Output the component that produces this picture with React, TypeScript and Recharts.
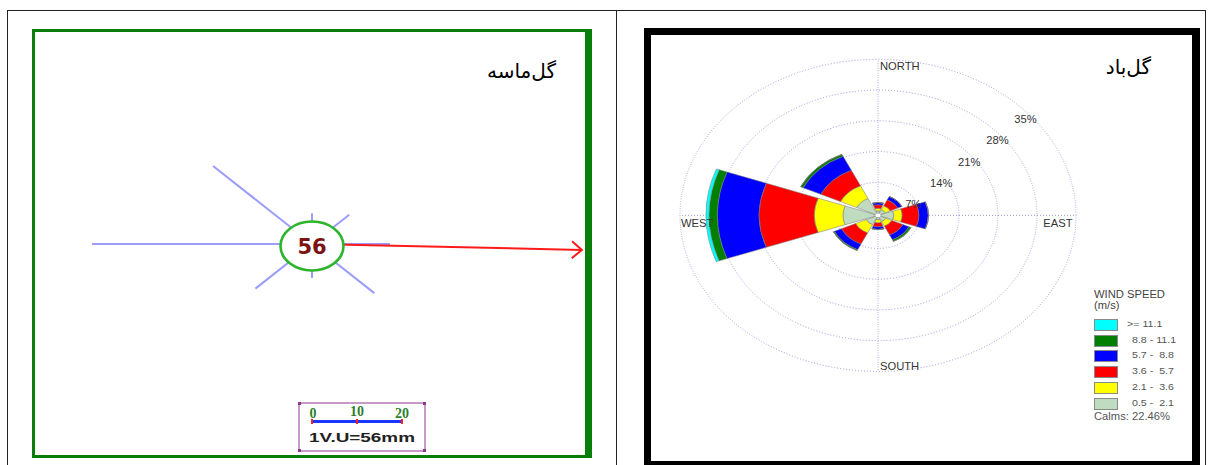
import React from 'react';
import {
  ScatterChart,
  Scatter,
  XAxis,
  YAxis,
  RadialBarChart,
  RadialBar,
  PolarGrid,
  PolarAngleAxis,
  PolarRadiusAxis,
} from 'recharts';

// ---------------- sand rose (left panel) ----------------
const sandTitle = 'گل\u200Cماسه';
const sandDirections = ['N', 'NE', 'E', 'SE', 'S', 'SW', 'W', 'NW'];
const sandBearings = [0, 45, 90, 135, 180, 225, 270, 315];
const sandLengths = [8.7, 11.7, 17.3, 19.6, 9.6, 17.8, 48.9, 31.1];
const resultantLength = 60;
const resultantBearing = 91.6;
const sandTotal = '56';
const scaleTicks = [0, 10, 20];
const scaleCaption = '1V.U=56mm';

// ---------------- wind rose (right panel) ----------------
const windTitle = 'گل\u200Cباد';
const windDirections = ['N', 'NE', 'E', 'SE', 'S', 'SW', 'W', 'NW'];
const compassNames = ['NORTH', '', 'EAST', '', 'SOUTH', '', 'WEST', ''];
const speedBins = ['0.5 -  2.1', '2.1 -  3.6', '3.6 -  5.7', '5.7 -  8.8', '8.8 - 11.1', '>= 11.1'];
const speedColors = ['#c0dcc0', '#ffff00', '#ff0000', '#0000ff', '#007f00', '#00ffff'];
const bin05to21 = [0.5, 0.9, 2.3, 1.0, 0.5, 1.8, 5.75, 3.7];
const bin21to36 = [0.6, 1.0, 1.5, 1.2, 0.7, 2.1, 5.15, 3.2];
const bin36to57 = [0.8, 1.5, 3.0, 2.2, 0.9, 2.8, 9.9, 3.9];
const bin57to88 = [0.5, 0.8, 1.7, 1.2, 0.6, 1.4, 7.5, 3.5];
const bin88to111 = [0, 0, 0, 0.4, 0, 0.2, 1.5, 0.5];
const bin111up = [0, 0, 0, 0, 0, 0, 0.55, 0];
const percentTicks = [7, 14, 21, 28, 35];
const calmsLabel = 'Calms: 22.46%';

const binSeries = [bin05to21, bin21to36, bin36to57, bin57to88, bin88to111, bin111up];
const binKeys = ['b1', 'b2', 'b3', 'b4', 'b5', 'b6'];
const windRows = windDirections.map((d, i) => {
  const row: any = { dir: d };
  binKeys.forEach((k, j) => (row[k] = binSeries[j][i]));
  return row;
});

// ---------------- geometry / style constants ----------------
const SY = 0.788; // vertical squash of the picture
const SX = 1.12; // horizontal stretch of the text
const UX = 4.5; // px per vector unit (horizontal) in the sand rose
const UY = UX * SY;
const CX = 250;
const CY = 220;
const HALF_BAND = 22.5;

const toXY = (len: number, bearing: number) => {
  const a = (bearing * Math.PI) / 180;
  return { x: len * Math.sin(a), y: len * Math.cos(a) };
};

const rayData = sandDirections.map((d, i) => [{ x: 0, y: 0 }, toXY(sandLengths[i], sandBearings[i])]);
const tip = toXY(resultantLength, resultantBearing);
const arrowData = [{ x: 0, y: 0 }, tip];
const headData = (() => {
  const sx = tip.x * UX;
  const sy = -tip.y * UY;
  const L = Math.hypot(sx, sy);
  const dx = sx / L;
  const dy = sy / L;
  const px = -dy;
  const py = dx;
  const back = 10;
  const half = 8.5;
  const p1 = { sx: sx - back * dx + half * px, sy: sy - back * dy + half * py };
  const p2 = { sx: sx - back * dx - half * px, sy: sy - back * dy - half * py };
  return [
    { x: p1.sx / UX, y: -p1.sy / UY },
    tip,
    { x: p2.sx / UX, y: -p2.sy / UY },
  ];
})();

const NoDot = () => <g />;

const CenterDisc = (props: any) => {
  const { cx, cy } = props;
  return (
    <g>
      <ellipse cx={cx} cy={cy + 2} rx={31.5} ry={24.5} fill="#fff" stroke="#2cb52c" strokeWidth={2.6} />
      <text
        x={cx}
        y={cy + 10}
        textAnchor="middle"
        fontFamily="'DejaVu Sans', sans-serif"
        fontWeight="bold"
        fontSize={21}
        fill="#7a1414"
      >
        {sandTotal}
      </text>
    </g>
  );
};

const compassOffsets: Record<string, { dx: number; dy: number; anchor: string }> = {
  N: { dx: 2, dy: 11.5, anchor: 'start' },
  E: { dx: -4.5, dy: 12, anchor: 'end' },
  S: { dx: 2, dy: -2, anchor: 'start' },
  W: { dx: 2, dy: 12, anchor: 'start' },
};

// the angle axis places ticks at the start of each band; move them to the band centre
const AngleTick = (props: any) => {
  const { x, y, payload } = props;
  const i = windDirections.indexOf(payload.value);
  const label = compassNames[i];
  const o = compassOffsets[payload.value];
  if (!label || !o) return <g />;
  const vx = x - CX;
  const vy = CY - y;
  const r = Math.hypot(vx, vy);
  const a = Math.atan2(vy, vx) + (HALF_BAND * Math.PI) / 180;
  const tx = CX + r * Math.cos(a);
  const ty = CY - r * Math.sin(a);
  return (
    <g transform={`translate(${tx},${ty}) scale(${SX},${1 / SY})`}>
      <text
        x={o.dx / SX}
        y={o.dy}
        textAnchor={o.anchor as any}
        fontSize={10}
        fontFamily="Arial, 'Liberation Sans', sans-serif"
        fill="#333"
      >
        {label}
      </text>
    </g>
  );
};

const RadiusTick = (props: any) => {
  const { x, y, payload } = props;
  return (
    <g transform={`translate(${x},${y}) scale(${SX},${1 / SY})`}>
      <text
        x={5 / SX}
        y={16}
        textAnchor="middle"
        fontSize={10}
        fontFamily="Arial, 'Liberation Sans', sans-serif"
        fill="#333"
      >
        {`${payload.value}%`}
      </text>
    </g>
  );
};

const abs = (s: React.CSSProperties): React.CSSProperties => ({ position: 'absolute', ...s });

export default function App() {
  const legendOrder = [5, 4, 3, 2, 1, 0];
  return (
    <div style={abs({ left: 0, top: 0, width: 1214, height: 465, background: '#fff', overflow: 'hidden' })}>
      {/* table lines */}
      <div style={abs({ left: 7, top: 10, width: 1199, height: 1, background: '#222' })} />
      <div style={abs({ left: 7, top: 10, width: 1, height: 455, background: '#222' })} />
      <div style={abs({ left: 616, top: 10, width: 1, height: 455, background: '#222' })} />
      <div style={abs({ left: 1205, top: 10, width: 1, height: 455, background: '#222' })} />

      {/* ---------- left panel ---------- */}
      <div
        style={abs({
          left: 32,
          top: 29,
          width: 560,
          height: 429,
          boxSizing: 'border-box',
          borderStyle: 'solid',
          borderColor: '#0a7e0a',
          borderWidth: '3px 7px 3px 3px',
        })}
      />
      <div style={abs({ left: 32, top: 29 })}>
        <ScatterChart width={560} height={429} margin={{ top: 0, right: 0, bottom: 0, left: 0 }}>
          <XAxis type="number" dataKey="x" domain={[-280 / UX, 280 / UX]} hide allowDataOverflow />
          <YAxis type="number" dataKey="y" domain={[-214 / UY, 215 / UY]} hide allowDataOverflow />
          {rayData.map((d, i) => (
            <Scatter
              key={sandDirections[i]}
              data={d}
              line={{ stroke: '#9c9cff', strokeWidth: 2 }}
              shape={NoDot}
              isAnimationActive={false}
            />
          ))}
          <Scatter data={arrowData} line={{ stroke: '#ff1a1a', strokeWidth: 2 }} shape={NoDot} isAnimationActive={false} />
          <Scatter data={headData} line={{ stroke: '#ff1a1a', strokeWidth: 2 }} shape={NoDot} isAnimationActive={false} />
          <Scatter data={[{ x: 0, y: 0 }]} shape={CenterDisc} isAnimationActive={false} />
        </ScatterChart>
      </div>
      <div
        style={abs({
          left: 440,
          width: 116,
          top: 59,
          textAlign: 'right',
          direction: 'rtl',
          fontFamily: "'DejaVu Sans', sans-serif",
          fontSize: 20,
          color: '#000',
        })}
      >
        {sandTitle}
      </div>
      {/* scale box */}
      <svg style={abs({ left: 298, top: 402 })} width={130} height={52}>
        <rect x={1} y={1} width={126} height={48} fill="#fff" stroke="#b67ab6" strokeWidth={1.5} />
        {[
          [0, 0],
          [125, 0],
          [0, 47],
          [125, 47],
        ].map(([x, y], i) => (
          <rect key={i} x={x} y={y} width={3} height={3} fill="#8a3a8a" />
        ))}
        <line x1={14} y1={19.5} x2={104} y2={19.5} stroke="#1a35ff" strokeWidth={3} />
        {scaleTicks.map((t) => {
          const x = 14 + (t / 20) * 90;
          return (
            <g key={t}>
              <line x1={x} y1={17} x2={x} y2={22} stroke="#ff2020" strokeWidth={2} />
              <text
                x={x + (t === 0 ? 1 : 0)}
                y={t === 10 ? 14 : 16}
                textAnchor="middle"
                fontFamily="'Liberation Serif', serif"
                fontWeight="bold"
                fontSize={14}
                fill="#2d7f2d"
              >
                {t}
              </text>
            </g>
          );
        })}
        <text
          x={64}
          y={40}
          textAnchor="middle"
          fontFamily="Arial, 'Liberation Sans', sans-serif"
          fontWeight="bold"
          fontSize={13}
          fill="#222"
          textLength={106}
          lengthAdjust="spacingAndGlyphs"
        >
          {scaleCaption}
        </text>
      </svg>

      {/* ---------- right panel ---------- */}
      <div
        style={abs({
          left: 644,
          top: 28,
          width: 556,
          height: 440,
          boxSizing: 'border-box',
          border: '7px solid #000',
          borderRightWidth: 8,
        })}
      />
      <div style={abs({ left: 878 - CX, top: 215 - CY * SY, transform: `scaleY(${SY})`, transformOrigin: '0 0' })}>
        <RadialBarChart
          width={500}
          height={440}
          data={windRows}
          cx={CX}
          cy={CY}
          innerRadius={3}
          outerRadius={198}
          startAngle={90 - HALF_BAND}
          endAngle={90 - HALF_BAND - 360}
          layout="centric"
          barCategoryGap="5.5%"
          margin={{ top: 0, right: 0, bottom: 0, left: 0 }}
        >
          <PolarGrid gridType="circle" polarAngles={[0, 90, 180, 270]} stroke="#8c8cd6" strokeDasharray="1 2" />
          <PolarAngleAxis
            type="category"
            dataKey="dir"
            tick={AngleTick}
            tickLine={false}
            axisLine={false}
            tickSize={1}
          />
          <PolarRadiusAxis
            type="number"
            domain={[0, 35]}
            ticks={percentTicks}
            angle={44}
            tick={RadiusTick}
            axisLine={false}
            tickLine={false}
          />
          {binKeys.map((k, j) => (
            <RadialBar
              key={k}
              dataKey={k}
              name={speedBins[j]}
              stackId="wind"
              fill={speedColors[j]}
              stroke="#7a7a7a"
              strokeWidth={0.6}
              isAnimationActive={false}
            />
          ))}
        </RadialBarChart>
      </div>
      <div
        style={abs({
          left: 1030,
          width: 121,
          top: 55,
          textAlign: 'right',
          direction: 'rtl',
          fontFamily: "'DejaVu Sans', sans-serif",
          fontSize: 20,
          color: '#000',
        })}
      >
        {windTitle}
      </div>
      {/* legend */}
      <div
        style={abs({
          left: 1094,
          top: 289,
          fontFamily: "Arial, 'Liberation Sans', sans-serif",
          fontSize: 10,
          lineHeight: '11px',
          color: '#444',
          transform: `scaleX(${SX})`,
          transformOrigin: '0 0',
          whiteSpace: 'pre',
        })}
      >
        <div>WIND SPEED</div>
        <div>(m/s)</div>
      </div>
      {legendOrder.map((j, r) => (
        <React.Fragment key={j}>
          <div
            style={abs({
              left: 1094,
              top: 319 + r * 15.7,
              width: 22,
              height: 10,
              background: speedColors[j],
              border: '1px solid #8a8a8a',
            })}
          />
          <div
            style={abs({
              left: j === 5 ? 1127 : 1132,
              top: 318 + r * 15.7,
              fontFamily: "Arial, 'Liberation Sans', sans-serif",
              fontSize: 9.5,
              lineHeight: '12px',
              color: '#555',
              transform: `scaleX(${SX})`,
              transformOrigin: '0 0',
              whiteSpace: 'pre',
            })}
          >
            {speedBins[j]}
          </div>
        </React.Fragment>
      ))}
      <div
        style={abs({
          left: 1094,
          top: 411,
          fontFamily: "Arial, 'Liberation Sans', sans-serif",
          fontSize: 10,
          lineHeight: '12px',
          color: '#555',
          transform: `scaleX(${SX})`,
          transformOrigin: '0 0',
          whiteSpace: 'pre',
        })}
      >
        {calmsLabel}
      </div>
    </div>
  );
}
